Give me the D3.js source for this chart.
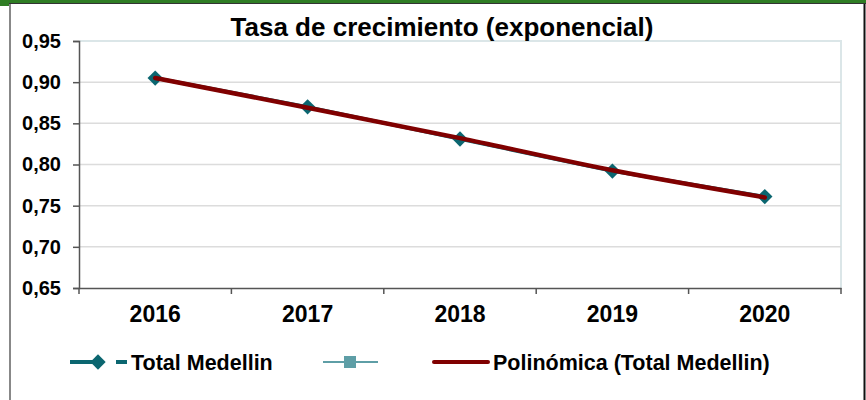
<!DOCTYPE html>
<html>
<head>
<meta charset="utf-8">
<script src="https://cdn.jsdelivr.net/npm/d3@7"></script>
<style>
  body { margin: 0; background: #fff; }
  svg { display: block; font-family: Arial, "Liberation Sans", sans-serif; }
</style>
</head>
<body>
<div id="chart"></div>
<script>
// Data
const years = ["2016", "2017", "2018", "2019", "2020"];
const totalMedellin = [0.905, 0.870, 0.831, 0.792, 0.761];
const trendPoly = [0.905, 0.869, 0.832, 0.793, 0.760];
const yTicks = [0.65, 0.70, 0.75, 0.80, 0.85, 0.90, 0.95];
const legendLabels = ["Total Medellin", "", "Polinómica (Total Medellin)"];

const W = 866, H = 400;
const margin = { top: 41, right: 25, bottom: 112, left: 79 };
const width = W - margin.left - margin.right,
      height = H - margin.top - margin.bottom;

const teal = "#0b6670", lightTeal = "#5e9ea6", darkRed = "#800000";
const fmt = v => d3.format(".2f")(v).replace(".", ",");

const svg = d3.select("#chart").append("svg")
    .attr("width", W)
    .attr("height", H);

// Outer frame + green band on top
svg.append("rect").attr("x", 0).attr("y", 0).attr("width", W).attr("height", 3).attr("fill", "#2f7d24");
svg.append("rect").attr("x", 0).attr("y", 0).attr("width", 9).attr("height", 6).attr("fill", "#2f7d24");
svg.append("line").attr("x1", 9).attr("x2", W).attr("y1", 3.5).attr("y2", 3.5).attr("stroke", "#333").attr("stroke-width", 1.2);
svg.append("line").attr("x1", 10).attr("x2", 10).attr("y1", 4).attr("y2", H).attr("stroke", "#888").attr("stroke-width", 2);
svg.append("line").attr("x1", 864.5).attr("x2", 864.5).attr("y1", 4).attr("y2", H).attr("stroke", "#111").attr("stroke-width", 2);

const g = svg.append("g")
    .attr("transform", "translate(" + margin.left + "," + margin.top + ")");

// Scales
const x = d3.scaleBand().domain(years).range([0, width]);
const y = d3.scaleLinear().domain([0.65, 0.95]).range([height, 0]);

// Plot area border (light)
g.append("path")
    .attr("d", "M0,0H" + width + "V" + height)
    .attr("fill", "none")
    .attr("stroke", "#dbe6e8")
    .attr("stroke-width", 2);

// Gridlines
g.selectAll(".grid").data(yTicks.filter(t => t > 0.65 && t < 0.95))
    .enter().append("line")
    .attr("x1", 0).attr("x2", width)
    .attr("y1", d => y(d)).attr("y2", d => y(d))
    .attr("stroke", "#dcdcdc")
    .attr("stroke-width", 1.5);

// Y axis
const yAxis = g.append("g")
    .call(d3.axisLeft(y).tickValues(yTicks).tickFormat(fmt).tickSize(6).tickPadding(12));
yAxis.select(".domain").attr("stroke", "#555").attr("stroke-width", 1.5);
yAxis.selectAll(".tick line").attr("stroke", "#555").attr("stroke-width", 1.5);
yAxis.selectAll("text")
    .attr("fill", "#000")
    .style("font-size", "20px")
    .style("font-weight", "bold");

// X axis: line plus ticks at category boundaries
const xAxis = g.append("g")
    .attr("transform", "translate(0," + height + ")")
    .call(d3.axisBottom(x).tickSize(0).tickPadding(18));
xAxis.select(".domain").attr("stroke", "#555").attr("stroke-width", 1.5);
xAxis.selectAll("text")
    .attr("fill", "#000")
    .style("font-size", "23px")
    .style("font-weight", "bold");
const bounds = years.map(d => x(d)).concat([x(years[years.length - 1]) + x.bandwidth()]);
xAxis.selectAll(".bound").data(bounds)
    .enter().append("line")
    .attr("x1", d => d).attr("x2", d => d)
    .attr("y1", 0).attr("y2", 6)
    .attr("stroke", "#555")
    .attr("stroke-width", 1.5);

const cx = d => x(d) + x.bandwidth() / 2;
const diamond = d3.symbol().type(d3.symbolDiamond2).size(150);

// Series line + markers
const series = years.map((d, i) => ({ x: d, y: totalMedellin[i] }));
g.append("path")
    .datum(series)
    .attr("fill", "none")
    .attr("stroke", teal)
    .attr("stroke-width", 3.5)
    .attr("d", d3.line().x(d => cx(d.x)).y(d => y(d.y)));
g.selectAll(".pt").data(series)
    .enter().append("path")
    .attr("transform", d => "translate(" + cx(d.x) + "," + y(d.y) + ")")
    .attr("d", diamond)
    .attr("fill", teal);

// Polynomial trend line
const trend = years.map((d, i) => ({ x: d, y: trendPoly[i] }));
g.append("path")
    .datum(trend)
    .attr("fill", "none")
    .attr("stroke", darkRed)
    .attr("stroke-width", 4.5)
    .attr("stroke-linecap", "round")
    .attr("d", d3.line().curve(d3.curveMonotoneX).x(d => cx(d.x)).y(d => y(d.y)));

// Title
svg.append("text")
    .attr("x", 442)
    .attr("y", 36)
    .attr("text-anchor", "middle")
    .style("font-size", "26px")
    .style("font-weight", "bold")
    .text("Tasa de crecimiento (exponencial)");

// Legend
const ly = 362;
const leg = svg.append("g").style("font-size", "21.5px").style("font-weight", "bold");

leg.append("line")
    .attr("x1", 70).attr("x2", 127).attr("y1", ly).attr("y2", ly)
    .attr("stroke", teal).attr("stroke-width", 4)
    .attr("stroke-dasharray", "33,13,11");
leg.append("path")
    .attr("transform", "translate(98," + ly + ")")
    .attr("d", diamond)
    .attr("fill", teal);
leg.append("text").attr("x", 131).attr("y", ly + 8).text(legendLabels[0]);

leg.append("line")
    .attr("x1", 323).attr("x2", 378).attr("y1", ly).attr("y2", ly)
    .attr("stroke", lightTeal).attr("stroke-width", 2);
leg.append("rect")
    .attr("x", 344).attr("y", ly - 6).attr("width", 12).attr("height", 12)
    .attr("fill", lightTeal);

leg.append("line")
    .attr("x1", 434).attr("x2", 488).attr("y1", ly).attr("y2", ly)
    .attr("stroke", darkRed).attr("stroke-width", 4)
    .attr("stroke-linecap", "round");
leg.append("text").attr("x", 493).attr("y", ly + 8).text(legendLabels[2]);
</script>
</body>
</html>
